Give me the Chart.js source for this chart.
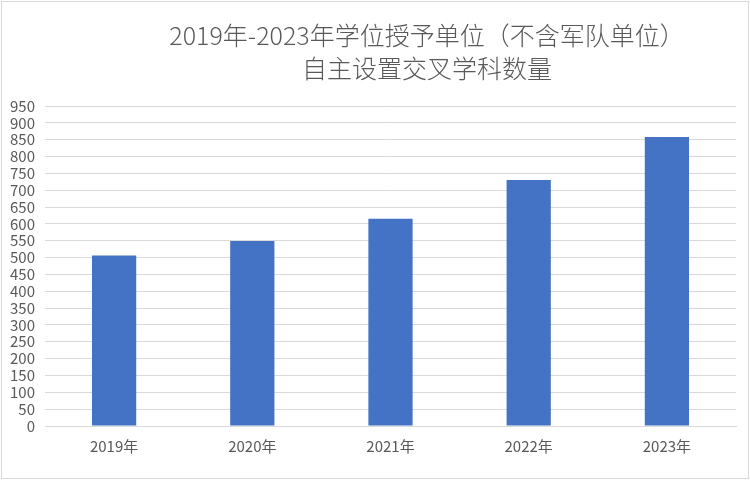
<!DOCTYPE html>
<html>
<head>
<meta charset="utf-8">
<script src="https://cdn.jsdelivr.net/npm/chart.js@4"></script>
<style>
html,body{margin:0;padding:0;background:#fff;}
#wrap{position:relative;width:750px;height:481px;}
canvas{display:block;}
</style>
</head>
<body>
<div id="wrap"><canvas id="c" width="750" height="481"></canvas></div>
<script>
const categories = ["2019年", "2020年", "2021年", "2022年", "2023年"];
const values = [506, 549, 615, 730, 858];
const titleLines = ["2019年-2023年学位授予单位（不含军队单位）", "自主设置交叉学科数量"];
const yMin = 0, yMax = 950, yStep = 50;

const FONT = '"Noto Sans CJK SC", "Noto Sans", sans-serif';
const GRAY_TEXT = '#595959';
const GRID = '#d9d9d9';

const frameAndTitle = {
  id: 'frameAndTitle',
  beforeDraw(chart) {
    const ctx = chart.ctx;
    ctx.save();
    ctx.fillStyle = '#ffffff';
    ctx.fillRect(0, 0, chart.width, chart.height);
    ctx.restore();
  },
  afterDraw(chart) {
    const ctx = chart.ctx;
    ctx.save();
    ctx.strokeStyle = GRID;
    ctx.lineWidth = 1;
    ctx.strokeRect(1.5, 1.5, 747, 477);
    ctx.fillStyle = GRAY_TEXT;
    ctx.font = '300 25px ' + FONT;
    ctx.textAlign = 'center';
    ctx.textBaseline = 'middle';
    ctx.fillText(titleLines[0], 427, 35);
    ctx.fillText(titleLines[1], 427, 68);
    ctx.restore();
  }
};

new Chart(document.getElementById('c'), {
  type: 'bar',
  data: {
    labels: categories,
    datasets: [{
      data: values,
      backgroundColor: '#4472c4',
      borderWidth: 0,
      barPercentage: 0.32,
      categoryPercentage: 1.0
    }]
  },
  options: {
    responsive: false,
    animation: false,
    devicePixelRatio: 1,
    layout: { padding: { left: 0, right: 14, top: 106, bottom: 0 } },
    plugins: {
      legend: { display: false },
      title: { display: false },
      tooltip: { enabled: false }
    },
    scales: {
      x: {
        grid: { display: false, drawTicks: false },
        border: { display: true, color: GRID, width: 1 },
        ticks: { color: GRAY_TEXT, font: { family: FONT, size: 15 }, padding: 11, maxRotation: 0 },
        afterFit(scale) { scale.height = 55; }
      },
      y: {
        min: yMin,
        max: yMax,
        grid: { color: GRID, lineWidth: 1, drawTicks: false },
        border: { display: false },
        ticks: { stepSize: yStep, autoSkip: false, color: GRAY_TEXT, font: { family: FONT, size: 15, lineHeight: 1.0 }, padding: 10 },
        afterFit(scale) { scale.width = 45; }
      }
    }
  },
  plugins: [frameAndTitle]
});
</script>
</body>
</html>
